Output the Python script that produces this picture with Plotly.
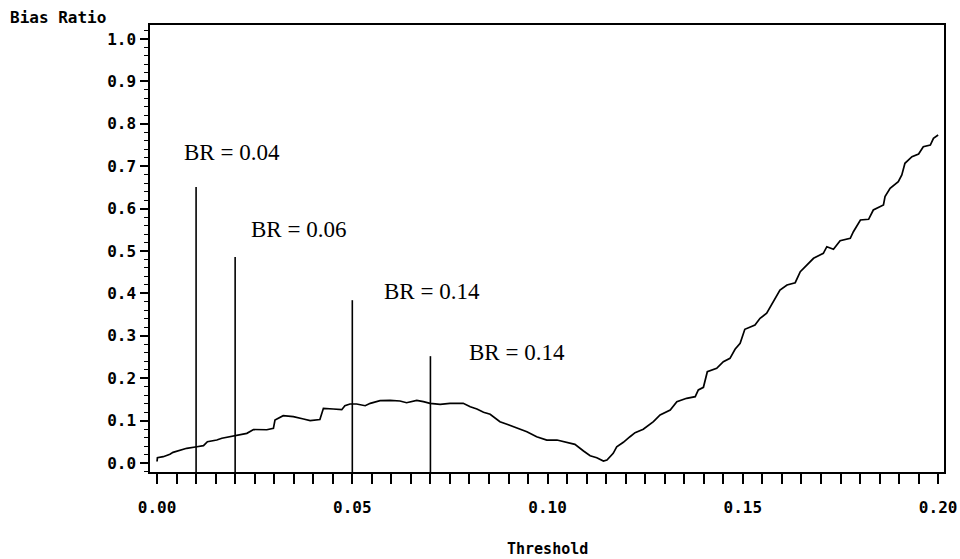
import plotly.graph_objects as go

# ---- data ----
threshold = [0.0000, 0.0001, 0.0016, 0.0033, 0.0041, 0.0063, 0.0076, 0.0102, 0.0119, 0.0129,
             0.0153, 0.0166, 0.0187, 0.0202, 0.0230, 0.0247, 0.0281, 0.0298, 0.0302, 0.0323,
             0.0349, 0.0375, 0.0392, 0.0417, 0.0426, 0.0451, 0.0473, 0.0481, 0.0494, 0.0511,
             0.0533, 0.0546, 0.0571, 0.0597, 0.0622, 0.0639, 0.0665, 0.0682, 0.0699, 0.0725,
             0.0750, 0.0784, 0.0802, 0.0819, 0.0836, 0.0853, 0.0878, 0.0896, 0.0921, 0.0947,
             0.0972, 0.0998, 0.1024, 0.1049, 0.1070, 0.1092, 0.1109, 0.1126, 0.1143, 0.1152,
             0.1168, 0.1177, 0.1194, 0.1211, 0.1224, 0.1245, 0.1271, 0.1288, 0.1314, 0.1331,
             0.1356, 0.1378, 0.1386, 0.1399, 0.1409, 0.1433, 0.1450, 0.1467, 0.1480, 0.1493,
             0.1505, 0.1531, 0.1544, 0.1561, 0.1578, 0.1595, 0.1613, 0.1634, 0.1647, 0.1659,
             0.1681, 0.1706, 0.1715, 0.1732, 0.1749, 0.1775, 0.1783, 0.1801, 0.1822, 0.1834,
             0.1860, 0.1864, 0.1877, 0.1898, 0.1907, 0.1915, 0.1933, 0.1950, 0.1962, 0.1980,
             0.1988, 0.2000]
bias_ratio = [0.0035, 0.0125, 0.0149, 0.0205, 0.0252, 0.0307, 0.0347, 0.0384, 0.0408, 0.0502,
              0.0542, 0.0583, 0.0620, 0.0660, 0.0700, 0.0790, 0.0785, 0.0818, 0.1014, 0.1116,
              0.1092, 0.1038, 0.1002, 0.1026, 0.1290, 0.1274, 0.1257, 0.1351, 0.1392, 0.1392,
              0.1351, 0.1408, 0.1469, 0.1479, 0.1462, 0.1422, 0.1479, 0.1446, 0.1408, 0.1384,
              0.1408, 0.1408, 0.1328, 0.1274, 0.1196, 0.1149, 0.0974, 0.0913, 0.0833, 0.0738,
              0.0620, 0.0542, 0.0542, 0.0488, 0.0441, 0.0283, 0.0172, 0.0125, 0.0047, 0.0071,
              0.0229, 0.0384, 0.0488, 0.0620, 0.0715, 0.0795, 0.0974, 0.1132, 0.1250, 0.1446,
              0.1526, 0.1564, 0.1722, 0.1785, 0.2153, 0.2233, 0.2389, 0.2469, 0.2682, 0.2823,
              0.3153, 0.3255, 0.3413, 0.3531, 0.3804, 0.4080, 0.4198, 0.4252, 0.4512, 0.4630,
              0.4828, 0.4946, 0.5101, 0.5040, 0.5243, 0.5300, 0.5455, 0.5731, 0.5748, 0.5967,
              0.6085, 0.6281, 0.6479, 0.6634, 0.6792, 0.7068, 0.7224, 0.7288, 0.7460, 0.7500,
              0.7658, 0.7736]

ref_x = [0.01, 0.02, 0.05, 0.07]
ref_top = [0.651, 0.486, 0.384, 0.252]
ref_labels = ["BR = 0.04", "BR = 0.06", "BR = 0.14", "BR = 0.14"]

x_ticks = [0.00, 0.05, 0.10, 0.15, 0.20]
x_ticklabels = ["0.00", "0.05", "0.10", "0.15", "0.20"]
y_ticks = [0.0, 0.1, 0.2, 0.3, 0.4, 0.5, 0.6, 0.7, 0.8, 0.9, 1.0]
y_ticklabels = ["0.0", "0.1", "0.2", "0.3", "0.4", "0.5", "0.6", "0.7", "0.8", "0.9", "1.0"]

# ---- layout constants ----
X_RANGE = [-0.0018, 0.2015]
Y_RANGE = [-0.0212, 1.033]
label_pos = [(0.0192, 0.733), (0.0361, 0.551), (0.0704, 0.405), (0.0921, 0.261)]

L, R, T, B = 150, 16, 25, 87
PW, PH = 960 - L - R, 559 - T - B

mono = "DejaVu Sans Mono"
serif = "Liberation Serif"

fig = go.Figure()
fig.add_trace(go.Scatter(x=threshold, y=bias_ratio, mode="lines",
                         line=dict(color="black", width=1.7), showlegend=False,
                         hoverinfo="skip"))

for xv, top in zip(ref_x, ref_top):
    fig.add_shape(type="line", xref="x", yref="y", x0=xv, x1=xv, y0=Y_RANGE[0], y1=top,
                  line=dict(color="black", width=1.6))

for (ax, ay), txt in zip(label_pos, ref_labels):
    fig.add_annotation(x=ax, y=ay, xref="x", yref="y", text=txt, showarrow=False,
                       xanchor="center", yanchor="middle",
                       font=dict(family=serif, size=23, color="black"))

fig.add_annotation(x=(8 - L) / PW, y=(559 - B - 18) / PH, xref="paper", yref="paper",
                   text="Bias Ratio", showarrow=False, xanchor="left", yanchor="middle",
                   font=dict(family=mono, size=16, color="black", weight="bold"))
fig.add_annotation(x=(547 - L) / PW, y=(559 - B - 549) / PH, xref="paper", yref="paper",
                   text="Threshold", showarrow=False, xanchor="center", yanchor="middle",
                   font=dict(family=mono, size=15, color="black", weight="bold"))

fig.update_layout(
    width=960, height=559,
    margin=dict(l=L, r=R, t=T, b=B, autoexpand=False),
    paper_bgcolor="white", plot_bgcolor="white",
    xaxis=dict(range=X_RANGE, showgrid=False, zeroline=False, automargin=False,
               showline=True, linecolor="black", linewidth=1.5, mirror=True,
               tickmode="array", tickvals=x_ticks, ticktext=x_ticklabels,
               ticks="outside", ticklen=10, tickwidth=1.5, tickcolor="black",
               ticklabelstandoff=10,
               minor=dict(dtick=0.005, tick0=0, ticks="outside", ticklen=10,
                          tickwidth=1.5, tickcolor="black", showgrid=False),
               tickfont=dict(family=mono, size=16, color="black", weight="bold")),
    yaxis=dict(range=Y_RANGE, showgrid=False, zeroline=False, automargin=False,
               showline=True, linecolor="black", linewidth=1.5, mirror=True,
               tickmode="array", tickvals=y_ticks, ticktext=y_ticklabels,
               ticks="outside", ticklen=8, tickwidth=1.5, tickcolor="black",
               ticklabelstandoff=1,
               minor=dict(dtick=0.02, tick0=0, ticks="outside", ticklen=4,
                          tickwidth=1.2, tickcolor="black", showgrid=False),
               tickfont=dict(family=mono, size=16, color="black", weight="bold")),
)

fig.write_html("out.html", config={"displayModeBar": False},
               post_script="document.body.style.margin='0';document.body.style.padding='0';")
